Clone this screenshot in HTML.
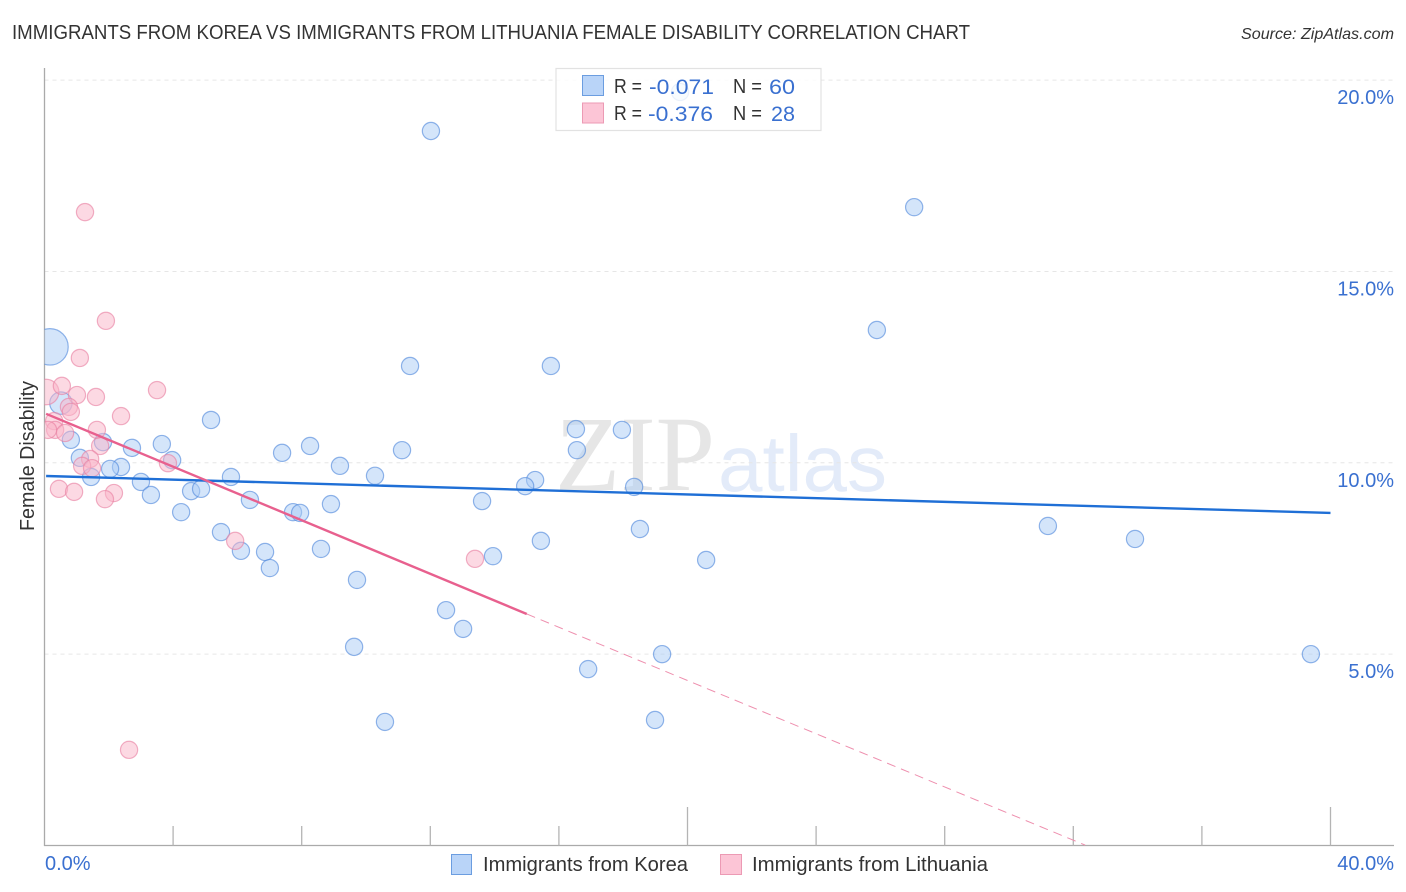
<!DOCTYPE html>
<html>
<head>
<meta charset="utf-8">
<title>Immigrants from Korea vs Immigrants from Lithuania Female Disability Correlation Chart</title>
<style>
html,body{margin:0;padding:0;background:#fff;width:1406px;height:892px;overflow:hidden}
svg{display:block;font-family:"Liberation Sans",sans-serif}
</style>
</head>
<body>
<svg id="chart" xmlns="http://www.w3.org/2000/svg" width="1406" height="892" viewBox="0 0 1406 892">
  <rect x="0" y="0" width="1406" height="892" fill="#ffffff"/>
  <text x="12" y="39" font-size="20" fill="#333333" textLength="958" lengthAdjust="spacingAndGlyphs">IMMIGRANTS FROM KOREA VS IMMIGRANTS FROM LITHUANIA FEMALE DISABILITY CORRELATION CHART</text>
  <text x="1394" y="39" font-size="16" font-style="italic" fill="#333333" text-anchor="end" textLength="153" lengthAdjust="spacingAndGlyphs">Source: ZipAtlas.com</text>
  <g>
    <text x="555" y="490" font-family="'Liberation Serif',serif" font-size="107" fill="#e6e6e6" textLength="160" lengthAdjust="spacingAndGlyphs">ZIP</text>
    <text x="718" y="491" font-size="80" fill="#e3ebf9" textLength="169" lengthAdjust="spacingAndGlyphs">atlas</text>
  </g>
  <g id="grid"></g>
  <g id="axes"></g>
  <g id="korea"></g>
  <g id="lithuania"></g>
  <g id="trends"></g>
  <g id="labels"></g>
  <text transform="translate(34,456) rotate(-90)" font-size="20" fill="#333333" text-anchor="middle" textLength="150" lengthAdjust="spacingAndGlyphs">Female Disability</text>

  <g>
    <rect x="556" y="68.5" width="265" height="62" fill="#ffffff" fill-opacity="0.82" stroke="#e2e2e2" stroke-width="1.2"/>
    <rect x="582.5" y="75.5" width="21" height="20" fill="#b9d4f8" stroke="#6b9de0" stroke-width="1"/>
    <rect x="582.5" y="103" width="21" height="20" fill="#fcc5d6" stroke="#ec9ab4" stroke-width="1"/>
    <g font-size="21">
      <text x="614" y="93" fill="#333333" font-size="20" textLength="28" lengthAdjust="spacingAndGlyphs">R =</text>
      <text x="649" y="94" fill="#3a70d0" textLength="65" lengthAdjust="spacingAndGlyphs">-0.071</text>
      <text x="733" y="93" fill="#333333" font-size="20" textLength="29" lengthAdjust="spacingAndGlyphs">N =</text>
      <text x="769" y="94" fill="#3a70d0" textLength="26" lengthAdjust="spacingAndGlyphs">60</text>
      <text x="614" y="120" fill="#333333" font-size="20" textLength="28" lengthAdjust="spacingAndGlyphs">R =</text>
      <text x="648" y="121" fill="#3a70d0" textLength="65" lengthAdjust="spacingAndGlyphs">-0.376</text>
      <text x="733" y="120" fill="#333333" font-size="20" textLength="29" lengthAdjust="spacingAndGlyphs">N =</text>
      <text x="771" y="121" fill="#3a70d0" textLength="24" lengthAdjust="spacingAndGlyphs">28</text>
    </g>
  </g>

  <g>
    <g>
      <rect x="451.5" y="854.5" width="20" height="20" fill="#b9d4f8" stroke="#6b9de0" stroke-width="1"/>
      <text x="483" y="871" font-size="20" fill="#333333" textLength="205" lengthAdjust="spacingAndGlyphs">Immigrants from Korea</text>
    </g>
    <g>
      <rect x="720.5" y="854.5" width="21" height="20" fill="#fcc5d6" stroke="#ec9ab4" stroke-width="1"/>
      <text x="752" y="871" font-size="20" fill="#333333" textLength="236" lengthAdjust="spacingAndGlyphs">Immigrants from Lithuania</text>
    </g>
  </g>
</svg>

<script>
var yTickValues = [5, 10, 15, 20];
var yTickLabels = ["5.0%", "10.0%", "15.0%", "20.0%"];
var xTickValues = [4, 8, 12, 16, 20, 24, 28, 32, 36, 40];
var xMajorTicks = [20, 40];
var xEndLabels = ["0.0%", "40.0%"];

var koreaX = [12.02,27.05,25.89,0.17,11.37,15.75,0.51,5.18,16.53,17.96,0.82,1.82,2.72,3.65,11.12,16.56,7.39,8.26,3.97,1.10,9.19,10.28,2.38,2.04,1.45,3.00,5.80,15.26,14.95,18.34,4.56,4.87,3.31,6.39,8.91,13.61,4.25,7.73,7.95,18.52,31.21,5.49,33.92,15.44,8.60,6.86,6.11,13.95,20.58,7.01,9.72,12.49,13.02,9.63,19.21,39.39,16.91,18.99,10.59,19.77];
var koreaY = [18.67,16.68,13.47,13.03,12.53,12.53,11.56,11.12,10.88,10.86,10.60,10.54,10.39,10.49,10.33,10.33,10.26,10.44,10.07,10.13,9.92,9.66,9.89,9.84,9.63,9.50,9.63,9.55,9.39,9.37,9.26,9.32,9.16,9.03,8.92,9.00,8.71,8.71,8.69,8.27,8.35,8.19,8.01,7.96,7.75,7.67,7.70,7.56,7.46,7.25,6.94,6.15,5.66,5.19,5.00,5.00,4.61,3.28,3.23,19.69];
var koreaWeight = [1,1,1,4.5,1,1,1.7,1,1,1,1,1,1,1,1,1,1,1,1,1,1,1,1,1,1,1,1,1,1,1,1,1,1,1,1,1,1,1,1,1,1,1,1,1,1,1,1,1,1,1,1,1,1,1,1,1,1,1,1,1];

var lithuaniaX = [1.26,1.91,1.10,3.50,0.05,0.54,1.01,1.60,2.38,0.76,0.82,0.30,1.63,0.33,0.11,0.64,1.73,1.42,1.17,1.48,3.84,0.45,0.92,2.16,1.88,5.93,13.39,2.63];
var lithuaniaY = [16.55,13.71,12.74,11.90,11.85,12.01,11.77,11.72,11.22,11.46,11.33,11.09,10.86,10.86,10.86,10.78,10.44,10.10,9.92,9.86,9.99,9.32,9.24,9.21,9.05,7.96,7.49,2.50];
var lithuaniaWeight = [1,1,1,1,2.2,1,1,1,1,1,1,1,1,1,1,1,1,1,1,1,1,1,1,1,1,1,1,1];

var koreaTrendX = [0.05, 40];
var koreaTrendY = [9.655, 8.69];
var lithuaniaTrendX = [0.05, 15.0];
var lithuaniaTrendY = [11.28, 6.05];
var lithuaniaDashX = [15.0, 32.37];
var lithuaniaDashY = [6.05, 0.01];

var NS = "http://www.w3.org/2000/svg";
function xScale(v){ return 44.5 + v * 32.15; }
function yScale(v){ return 845.5 - v * 38.27; }
function rScale(w){ return 8.6 * Math.sqrt(w); }
function make(tag, parent, attrs){
  var el = document.createElementNS(NS, tag);
  for (var k in attrs) el.setAttribute(k, attrs[k]);
  parent.appendChild(el);
  return el;
}

var defs = make("defs", document.getElementById("chart"), {});
var clip = make("clipPath", defs, {id: "plot-clip"});
make("rect", clip, {x: 44.5, y: 60, width: 1350, height: 786});
document.getElementById("korea").setAttribute("clip-path", "url(#plot-clip)");
document.getElementById("lithuania").setAttribute("clip-path", "url(#plot-clip)");

var gridG = document.getElementById("grid");
yTickValues.forEach(function(v){
  var gl = make("line", gridG, {x1: 44.5, x2: 1394, y1: yScale(v), y2: yScale(v), stroke: "#e6e6e6", "stroke-width": 1, "stroke-dasharray": "4 4"});
  
  
});

var axesG = document.getElementById("axes");
var yAxis = make("line", axesG, {x1: 44.5, x2: 44.5, y1: 68, y2: 846, stroke: "#aaaaaa", "stroke-width": 1.3});


var xAxis = make("line", axesG, {x1: 44, x2: 1394, y1: 845.5, y2: 845.5, stroke: "#aaaaaa", "stroke-width": 1.3});


xTickValues.forEach(function(v){
  var major = xMajorTicks.indexOf(v) >= 0;
  var t = make("line", axesG, {x1: xScale(v), x2: xScale(v), y1: major ? 807 : 826, y2: 845.5, stroke: "#b4b4b4", "stroke-width": 1.3});
  
  
});

function drawSeries(groupId, xs, ys, ws, fill, stroke, pointName){
  var g = document.getElementById(groupId);
  xs.forEach(function(x, i){
    var c = make("circle", g, {cx: xScale(x), cy: yScale(ys[i]), r: rScale(ws[i]), fill: fill, "fill-opacity": 0.5, stroke: stroke, "stroke-opacity": 0.62, "stroke-width": 1.2});
    
    
  });
}
drawSeries("korea", koreaX, koreaY, koreaWeight, "#a9cbf5", "#4f88dc", "korea-point");
drawSeries("lithuania", lithuaniaX, lithuaniaY, lithuaniaWeight, "#f9b4c8", "#e97fa2", "lithuania-point");

var trendG = document.getElementById("trends");
var tk = make("line", trendG, {x1: xScale(koreaTrendX[0]), y1: yScale(koreaTrendY[0]), x2: xScale(koreaTrendX[1]), y2: yScale(koreaTrendY[1]), stroke: "#1f6fd6", "stroke-width": 2.4});


var tl = make("line", trendG, {x1: xScale(lithuaniaTrendX[0]), y1: yScale(lithuaniaTrendY[0]), x2: xScale(lithuaniaTrendX[1]), y2: yScale(lithuaniaTrendY[1]), stroke: "#e8608e", "stroke-width": 2.4});


var td = make("line", trendG, {x1: xScale(lithuaniaDashX[0]), y1: yScale(lithuaniaDashY[0]), x2: xScale(lithuaniaDashX[1]), y2: yScale(lithuaniaDashY[1]), stroke: "#ee8fae", "stroke-width": 1, "stroke-dasharray": "9 6"});



var labelG = document.getElementById("labels");
yTickValues.forEach(function(v, i){
  var t = make("text", labelG, {x: 1394, y: yScale(v) + 24, "font-size": 20, fill: "#3a70d0", "text-anchor": "end"});
  
  
  t.textContent = yTickLabels[i];
});
var x0 = make("text", labelG, {x: 45, y: 870, "font-size": 20, fill: "#3a70d0"});


x0.textContent = xEndLabels[0];
var x1 = make("text", labelG, {x: 1394, y: 870, "font-size": 20, fill: "#3a70d0", "text-anchor": "end"});


x1.textContent = xEndLabels[1];
</script>
</body>
</html>
